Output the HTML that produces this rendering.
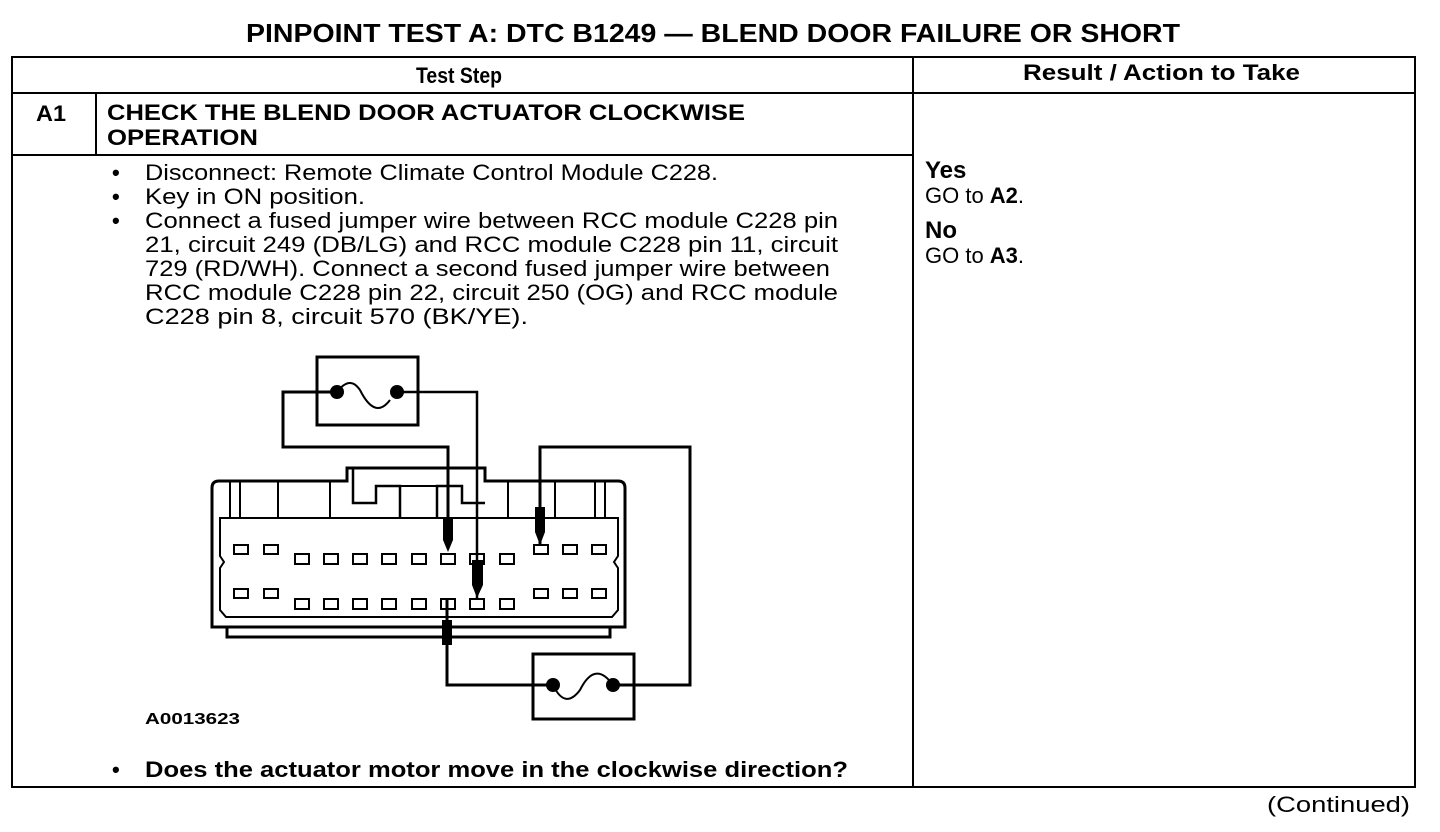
<!DOCTYPE html>
<html><head><style>
html,body{margin:0;padding:0;background:#fff;}
svg{display:block;}
text{font-family:"Liberation Sans",Arial,sans-serif;fill:#000;}
</style></head><body>
<svg width="1440" height="832" viewBox="0 0 1440 832" xmlns="http://www.w3.org/2000/svg">
<g stroke="#000" stroke-width="2" fill="none">
<rect x="12" y="57" width="1403" height="730"/>
<line x1="12" y1="93" x2="1415" y2="93"/>
<line x1="12" y1="155" x2="913" y2="155"/>
<line x1="913" y1="57" x2="913" y2="787"/>
<line x1="96" y1="93" x2="96" y2="155"/>
</g>
<text x="246" y="42" font-size="26" font-weight="bold" textLength="934" lengthAdjust="spacingAndGlyphs">PINPOINT TEST  A: DTC B1249 — BLEND DOOR FAILURE OR SHORT</text>
<text x="416" y="83" font-size="22" font-weight="bold" textLength="86" lengthAdjust="spacingAndGlyphs">Test Step</text>
<text x="1023" y="80" font-size="22" font-weight="bold" textLength="277" lengthAdjust="spacingAndGlyphs">Result / Action to Take</text>
<text x="36" y="121" font-size="22" font-weight="bold" textLength="30" lengthAdjust="spacingAndGlyphs">A1</text>
<text x="107" y="120" font-size="22" font-weight="bold" textLength="638" lengthAdjust="spacingAndGlyphs">CHECK THE BLEND DOOR ACTUATOR CLOCKWISE</text>
<text x="107" y="145" font-size="22" font-weight="bold" textLength="151" lengthAdjust="spacingAndGlyphs">OPERATION</text>
<g font-size="22">
<text x="112" y="180" font-weight="bold">•</text>
<text x="112" y="204" font-weight="bold">•</text>
<text x="112" y="228" font-weight="bold">•</text>
<text x="145" y="180" textLength="573" lengthAdjust="spacingAndGlyphs">Disconnect: Remote Climate Control Module C228.</text>
<text x="145" y="204" textLength="220" lengthAdjust="spacingAndGlyphs">Key in ON position.</text>
<text x="145" y="228" textLength="693" lengthAdjust="spacingAndGlyphs">Connect a fused jumper wire between RCC module C228 pin</text>
<text x="145" y="252" textLength="693" lengthAdjust="spacingAndGlyphs">21, circuit 249 (DB/LG) and RCC module C228 pin 11, circuit</text>
<text x="145" y="276" textLength="685" lengthAdjust="spacingAndGlyphs">729 (RD/WH). Connect a second fused jumper wire between</text>
<text x="145" y="300" textLength="693" lengthAdjust="spacingAndGlyphs">RCC module C228 pin 22, circuit 250 (OG) and RCC module</text>
<text x="145" y="324" textLength="383" lengthAdjust="spacingAndGlyphs">C228 pin 8,  circuit 570 (BK/YE).</text>
<text x="112" y="777" font-weight="bold">•</text>
<text x="145" y="777" font-weight="bold" textLength="703" lengthAdjust="spacingAndGlyphs">Does the actuator motor move in the clockwise direction?</text>
<text x="925" y="178" font-size="24" font-weight="bold">Yes</text>
<text x="925" y="203">GO to <tspan font-weight="bold">A2</tspan>.</text>
<text x="925" y="238" font-size="24" font-weight="bold">No</text>
<text x="925" y="263">GO to <tspan font-weight="bold">A3</tspan>.</text>
<text x="1267" y="812" textLength="143" lengthAdjust="spacingAndGlyphs">(Continued)</text>
</g>
<text x="145" y="724" font-size="16" font-weight="bold" textLength="95" lengthAdjust="spacingAndGlyphs">A0013623</text>
<!-- diagram -->
<g stroke="#000" stroke-width="3" fill="none">
<rect x="317" y="357" width="101" height="68"/>
<rect x="533" y="654" width="101" height="65"/>
<path d="M212,488 Q212,481 219,481 L347,481 L347,468 L485,468 L485,481 L618,481 Q625,481 625,488 L625,627 L212,627 Z"/>
<path d="M227,627 L227,637 L610,637 L610,627"/>
<path d="M220,518 L618,518 L618,556 L614,562 L618,568 L618,610 L612,617 L226,617 L220,610 L220,568 L224,562 L220,556 Z" stroke-width="2"/>
<path d="M353,468 L353,503 L376,503 L376,486 L400,486 L400,518" stroke-width="2.5"/>
<path d="M485,503 L462,503 L462,486 L437,486 L437,518" stroke-width="2.5"/>
<path d="M376,486 L462,486" stroke-width="2"/>
<path d="M230,481 L230,518 M240,481 L240,518 M278,481 L278,518 M330,481 L330,518 M508,481 L508,518 M555,481 L555,518 M595,481 L595,518 M605,481 L605,518" stroke-width="2"/>
<path d="M337,392 L283,392 L283,447 L448,447 L448,545"/>
<path d="M397,392 L477,392 L477,598" stroke-width="2.5"/>
<path d="M447,600 L447,685 L553,685"/>
<path d="M613,685 L690,685 L690,447 L540,447 L540,545"/>
<path d="M337,392 Q350,375 360,390 Q375,420 390,400" stroke-width="2"/>
<path d="M553,685 Q565,710 580,690 Q595,660 613,685" stroke-width="2"/>
</g>
<g fill="#000">
<circle cx="337" cy="392" r="7"/><circle cx="397" cy="392" r="7"/>
<circle cx="553" cy="685" r="7"/><circle cx="613" cy="685" r="7"/>
<rect x="443" y="518" width="10" height="22"/>
<rect x="535" y="507" width="10" height="25"/>
<rect x="472" y="560" width="11" height="25"/>
<rect x="442" y="620" width="10" height="25"/>
<polygon points="443,540 453,540 448,552"/>
<polygon points="535,532 545,532 540,545"/>
<polygon points="472,585 483,585 477,598"/>
</g>
<g stroke="#000" stroke-width="2" fill="none">
<rect x="234" y="545" width="14" height="9"/><rect x="264" y="545" width="14" height="9"/>
<rect x="534" y="545" width="14" height="9"/><rect x="563" y="545" width="14" height="9"/><rect x="592" y="545" width="14" height="9"/>
<rect x="295" y="554" width="14" height="10"/><rect x="324" y="554" width="14" height="10"/><rect x="353" y="554" width="14" height="10"/><rect x="382" y="554" width="14" height="10"/><rect x="412" y="554" width="14" height="10"/><rect x="441" y="554" width="14" height="10"/><rect x="470" y="554" width="14" height="10"/><rect x="500" y="554" width="14" height="10"/>
<rect x="234" y="589" width="14" height="9"/><rect x="264" y="589" width="14" height="9"/>
<rect x="534" y="589" width="14" height="9"/><rect x="563" y="589" width="14" height="9"/><rect x="592" y="589" width="14" height="9"/>
<rect x="295" y="599" width="14" height="10"/><rect x="324" y="599" width="14" height="10"/><rect x="353" y="599" width="14" height="10"/><rect x="382" y="599" width="14" height="10"/><rect x="412" y="599" width="14" height="10"/><rect x="441" y="599" width="14" height="10"/><rect x="470" y="599" width="14" height="10"/><rect x="500" y="599" width="14" height="10"/>
</g>
</svg>
</body></html>
